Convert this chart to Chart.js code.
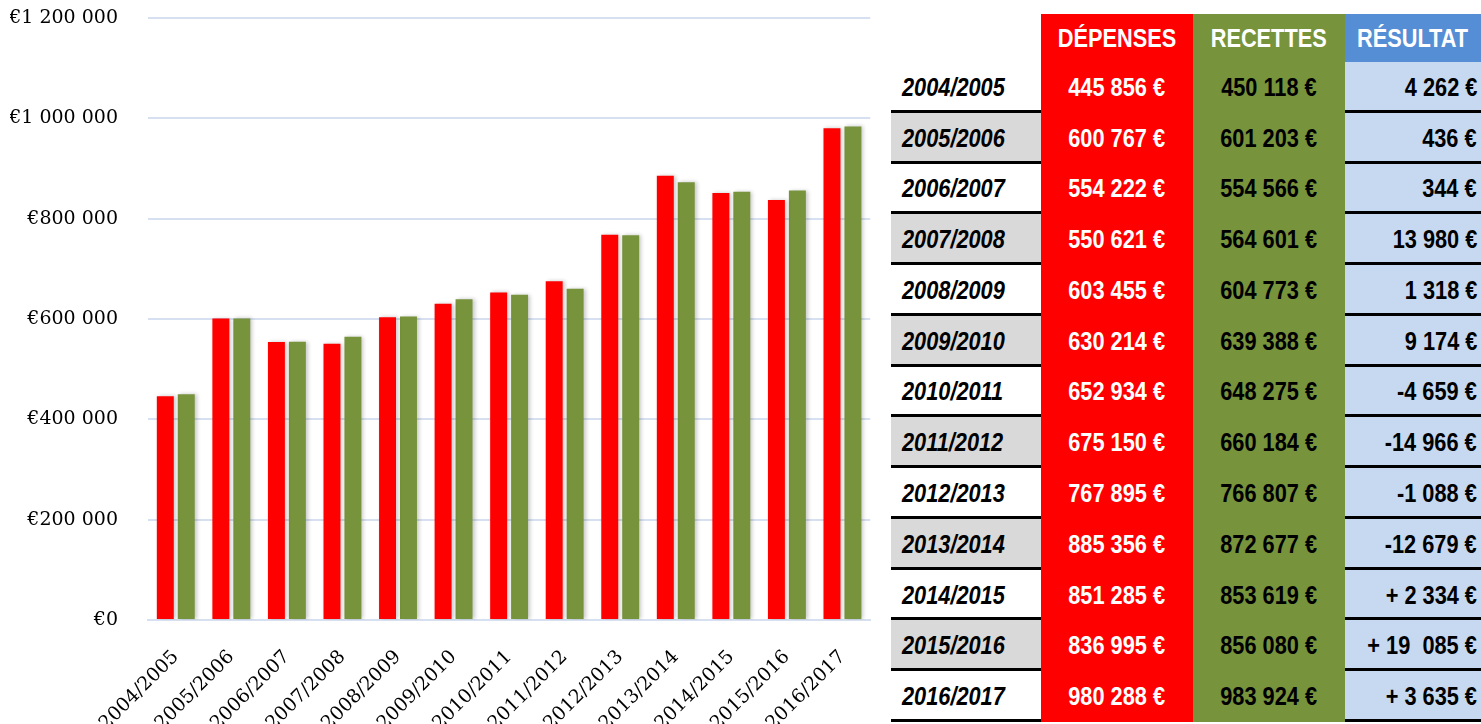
<!DOCTYPE html>
<html>
<head>
<meta charset="utf-8">
<script src="https://cdn.jsdelivr.net/npm/chart.js@4.4.1/dist/chart.umd.min.js"></script>
<style>
  html, body { margin: 0; padding: 0; background: #fff; width: 1481px; height: 724px; overflow: hidden; }
  #chartBox { position: absolute; left: 0; top: 0; width: 885px; height: 724px; }
  #tbl { position: absolute; left: 891px; top: 14px; width: 590px; font-family: "Liberation Sans", Arial, sans-serif; font-weight: bold; font-size: 25px; }
  .row { display: flex; height: 50.77px; }
  .hdr { height: 48px; }
  .cell { box-sizing: border-box; display: flex; align-items: center; white-space: pre; }
  .cell span { display: inline-block; transform: scaleX(0.87); }
  .c0 { width: 150px; padding-left: 11px; font-style: italic; color: #000; }
  .c0 span { transform-origin: left center; }
  .c1 { width: 152px; justify-content: center; background: #ff0000; color: #fff; }
  .c2 { width: 152px; justify-content: center; background: #77933c; color: #000; }
  .c1 span, .c2 span { transform-origin: center center; }
  .c3 { width: 136px; justify-content: flex-end; padding-right: 4px; background: #c6d9f1; color: #000; }
  .c3 span { transform-origin: right center; }
  .hdr .c1, .hdr .c2 { color: #fff; padding: 0; }
  .hdr .c3 { color: #fff; background: #558ed5; justify-content: flex-start; padding: 0 0 0 12px; }
  .hdr .c3 span { transform-origin: left center; }
  .body .cell { padding-top: 3px; }
  .body .c0, .body .c3 { border-bottom: 3px solid #000; }
  .body .c1, .body .c2 { padding-bottom: 3px; }
  .alt .c0 { background: #d9d9d9; }
</style>
</head>
<body>
<div id="chartBox"><canvas id="c"></canvas></div>
<div id="tbl"></div>
<script>
const categories = ["2004/2005","2005/2006","2006/2007","2007/2008","2008/2009","2009/2010","2010/2011","2011/2012","2012/2013","2013/2014","2014/2015","2015/2016","2016/2017"];
const depenses = [445856, 600767, 554222, 550621, 603455, 630214, 652934, 675150, 767895, 885356, 851285, 836995, 980288];
const recettes = [450118, 601203, 554566, 564601, 604773, 639388, 648275, 660184, 766807, 872677, 853619, 856080, 983924];
const resultatLabels = ["4 262 €","436 €","344 €","13 980 €","1 318 €","9 174 €","-4 659 €","-14 966 €","-1 088 €","-12 679 €","+ 2 334 €","+ 19  085 €","+ 3 635 €"];
const headers = ["", "DÉPENSES", "RECETTES", "RÉSULTAT"];
const yTicks = [0, 200000, 400000, 600000, 800000, 1000000, 1200000];

function fmt(n) {
  return String(n).replace(/\B(?=(\d{3})+(?!\d))/g, " ");
}

// Table
const tbl = document.getElementById('tbl');
const cell = (i, t) => '<div class="cell c' + i + '"><span>' + t + '</span></div>';
let h = '<div class="row hdr">' + headers.map((t, i) => cell(i, t)).join('') + '</div>';
categories.forEach((cat, i) => {
  h += '<div class="row body' + (i % 2 === 1 ? ' alt' : '') + '">' +
    cell(0, cat) +
    cell(1, fmt(depenses[i]) + ' €') +
    cell(2, fmt(recettes[i]) + ' €') +
    cell(3, resultatLabels[i]) + '</div>';
});
tbl.innerHTML = h;

// Chart
const shadowPlugin = {
  id: 'barShadow',
  beforeDatasetsDraw(chart) {
    const ctx = chart.ctx;
    ctx.save();
    ctx.shadowColor = 'rgba(0,0,0,0.22)';
    ctx.shadowBlur = 4;
    ctx.shadowOffsetX = 2;
    ctx.shadowOffsetY = 0;
  },
  afterDatasetsDraw(chart) {
    chart.ctx.restore();
  }
};

const serif = "'DejaVu Serif', 'Liberation Serif', serif";
new Chart(document.getElementById('c'), {
  type: 'bar',
  data: {
    labels: categories,
    datasets: [
      { label: 'Dépenses', data: depenses, backgroundColor: '#ff0000', categoryPercentage: 0.754, barPercentage: 0.81 },
      { label: 'Recettes', data: recettes, backgroundColor: '#77933c', categoryPercentage: 0.754, barPercentage: 0.81 }
    ]
  },
  plugins: [shadowPlugin],
  options: {
    responsive: true,
    maintainAspectRatio: false,
    animation: false,
    layout: { padding: { left: 10, right: 11, top: 18, bottom: 0 } },
    plugins: { legend: { display: false }, tooltip: { enabled: false } },
    scales: {
      x: {
        grid: { display: false, drawTicks: false },
        border: { color: '#d6e0f0', width: 2 },
        ticks: { color: '#000', font: { family: serif, size: 19 }, minRotation: 45, maxRotation: 45, autoSkip: false, padding: 26 },
        afterFit(s) { s.height = 104; }
      },
      y: {
        min: 0,
        max: 1200000,
        afterBuildTicks(s) { s.ticks = yTicks.map(v => ({ value: v })); },
        grid: { color: '#d6e0f0', lineWidth: 2, drawTicks: true, tickLength: 28, tickColor: 'rgba(0,0,0,0)' },
        border: { display: false },
        ticks: { color: '#000', font: { family: serif, size: 19 }, padding: 2, callback: v => '€' + fmt(v) },
        afterFit(s) { s.width = 138; }
      }
    }
  }
});
</script>
</body>
</html>
